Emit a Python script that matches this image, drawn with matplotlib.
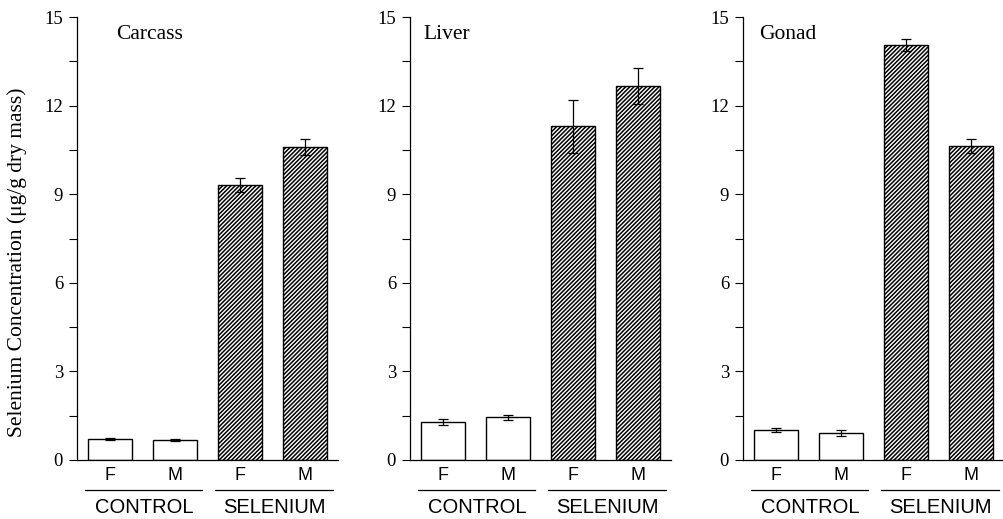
import numpy as np
import matplotlib
matplotlib.use("Agg")
import matplotlib.pyplot as plt
from matplotlib.ticker import MultipleLocator
from matplotlib.transforms import blended_transform_factory

plt.rcParams["hatch.linewidth"] = 1.1
plt.rcParams["hatch.color"] = "black"

SERIF = "Liberation Serif"
SANS = "Liberation Sans"

tissues = ["Carcass", "Liver", "Gonad"]
sex_labels = ["F", "M", "F", "M"]
groups = ["CONTROL", "SELENIUM"]

carcass_mean = [0.71, 0.68, 9.32, 10.6]
carcass_err = [0.03, 0.03, 0.23, 0.28]
liver_mean = [1.3, 1.45, 11.3, 12.67]
liver_err = [0.1, 0.08, 0.9, 0.62]
gonad_mean = [1.03, 0.92, 14.05, 10.63]
gonad_err = [0.07, 0.11, 0.2, 0.23]

means = [carcass_mean, liver_mean, gonad_mean]
errs = [carcass_err, liver_err, gonad_err]

fig = plt.figure(figsize=(10.04, 5.19), dpi=100)
lefts = [77, 410, 743]
title_x = [0.15, 0.05, 0.06]

x = np.arange(4)
for i, tissue in enumerate(tissues):
    ax = fig.add_axes([lefts[i] / 1004, 59 / 519, 261 / 1004, 443 / 519])
    for j in range(4):
        hatched = j >= 2
        ax.bar(x[j], means[i][j], width=0.68, color="white", edgecolor="black",
               linewidth=1.0, hatch="////////" if hatched else None, zorder=2)
    ax.errorbar(x, means[i], yerr=errs[i], fmt="none", ecolor="black",
                elinewidth=0.9, capsize=3.5, capthick=0.9, zorder=3)

    ax.set_xlim(-0.51, 3.51)
    ax.set_ylim(0, 15)
    ax.yaxis.set_major_locator(MultipleLocator(3))
    ax.yaxis.set_minor_locator(MultipleLocator(1.5))
    ax.tick_params(axis="y", which="both", direction="out", length=6, width=0.8,
                   labelsize=13.5, pad=4)
    for lab in ax.get_yticklabels():
        lab.set_fontfamily(SERIF)
    ax.set_xticks(x)
    ax.set_xticklabels(sex_labels, fontfamily=SANS, fontsize=13)
    ax.tick_params(axis="x", length=0, pad=5)

    for side in ["top", "right"]:
        ax.spines[side].set_visible(False)
    for side in ["left", "bottom"]:
        ax.spines[side].set_linewidth(0.9)

    ax.text(title_x[i], 0.96, tissue, transform=ax.transAxes, fontfamily=SERIF,
            fontsize=15.5, ha="left", va="center")

    trans = blended_transform_factory(ax.transData, ax.transAxes)
    for g, (x0, x1) in enumerate([(-0.38, 1.42), (1.62, 3.43)]):
        ax.plot([x0, x1], [-0.068, -0.068], color="black", lw=0.9,
                transform=trans, clip_on=False)
        ax.text((x0 + x1) / 2, -0.108, groups[g], transform=trans, fontfamily=SANS,
                fontsize=14.5, ha="center", va="center")

    if i == 0:
        ax.set_ylabel("Selenium Concentration (\u03bcg/g dry mass)", fontfamily=SERIF,
                      fontsize=15.5)
        ax.yaxis.set_label_coords(-0.19, 0.447)

fig.savefig("out.png", dpi=100)
